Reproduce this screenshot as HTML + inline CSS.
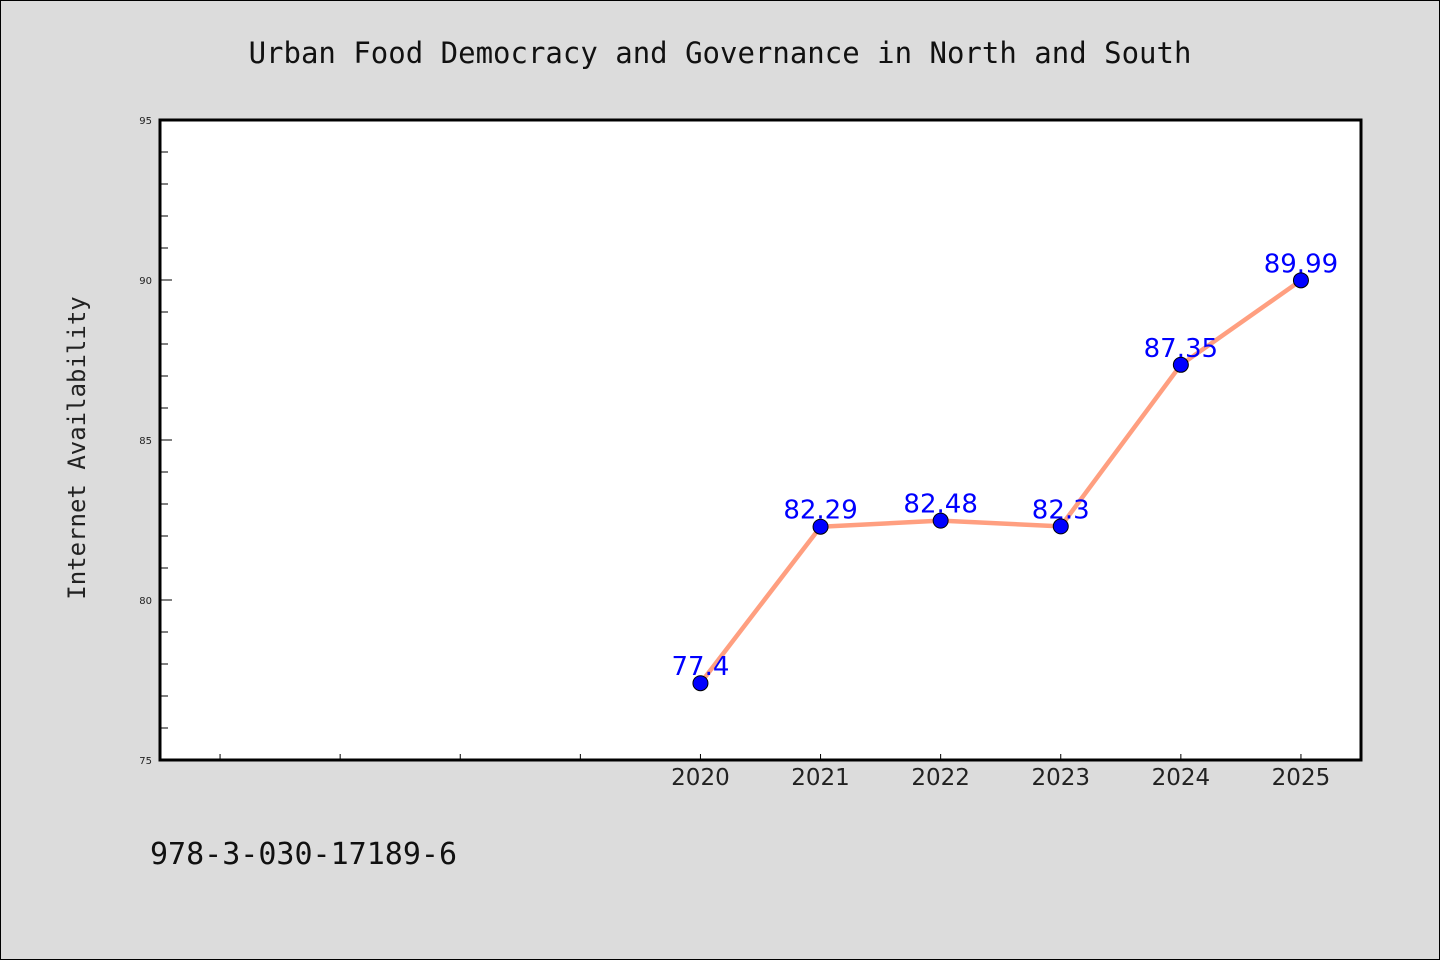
<!DOCTYPE html>
<html><head><meta charset="utf-8"><style>
html,body{margin:0;padding:0;background:#dcdcdc;}
svg{display:block;}
</style></head><body>
<svg width="1440" height="960" xmlns="http://www.w3.org/2000/svg">
<rect x="0.5" y="0.5" width="1439" height="959" fill="#dcdcdc" stroke="#000"/>
<text x="720" y="63" text-anchor="middle" font-family="'DejaVu Sans Mono','Liberation Mono',monospace" font-size="29" fill="#111">Urban Food Democracy and Governance in North and South</text>
<rect x="160" y="120" width="1201" height="641" fill="#fff"/>
<g id="axes"></g>
<text transform="translate(85,448) rotate(-90)" text-anchor="middle" font-family="'DejaVu Sans Mono','Liberation Mono',monospace" font-size="24" fill="#222">Internet Availability</text>
<text x="150" y="864" font-family="'DejaVu Sans Mono','Liberation Mono',monospace" font-size="30" fill="#111">978-3-030-17189-6</text>
</svg>
<script>
const years = [2020, 2021, 2022, 2023, 2024, 2025];
const values = [77.4, 82.29, 82.48, 82.3, 87.35, 89.99];
const labels = ["77.4", "82.29", "82.48", "82.3", "87.35", "89.99"];
const yTicks = [75, 80, 85, 90, 95];
const ns = "http://www.w3.org/2000/svg";
const g = document.getElementById('axes');
const X0 = 160, X1 = 1361, Y0 = 760, Y1 = 120;
const xMin = 2015.5, xMax = 2025.5, yMin = 75, yMax = 95;
const xs = v => X0 + (v - xMin) / (xMax - xMin) * (X1 - X0);
const ys = v => Y0 - (v - yMin) / (yMax - yMin) * (Y0 - Y1);
function mk(tag, attrs) { const e = document.createElementNS(ns, tag); for (const k in attrs) e.setAttribute(k, attrs[k]); g.appendChild(e); return e; }
// y ticks
for (let v = yMin; v <= yMax; v++) {
  const major = v % 5 === 0;
  const t = mk('line', {x1: X0, x2: X0 + (major ? 12 : 8), y1: ys(v), y2: ys(v), stroke: '#000', 'stroke-width': 1});
  
  
}
yTicks.forEach(v => {
  const t = mk('text', {x: 152, y: ys(v) + 4, 'text-anchor': 'end', 'font-family': "'DejaVu Sans',sans-serif", 'font-size': 10, fill: '#222'});
  t.textContent = v;
  
  
});
// x ticks
for (let v = 2016; v <= 2025; v++) {
  const t = mk('line', {x1: xs(v), x2: xs(v), y1: Y0, y2: Y0 - 6, stroke: '#000', 'stroke-width': 1});
  
  
}
years.forEach(v => {
  const t = mk('text', {x: xs(v), y: 785, 'text-anchor': 'middle', 'font-family': "'DejaVu Sans','Liberation Sans',sans-serif", 'font-size': 23, fill: '#222'});
  t.textContent = v;
  
  
});
// frame
const fr = mk('rect', {x: X0, y: Y1, width: X1 - X0, height: Y0 - Y1, fill: 'none', stroke: '#000', 'stroke-width': 3});


// line
const pts = years.map((y, i) => xs(y) + ',' + ys(values[i])).join(' ');
const pl = mk('polyline', {points: pts, fill: 'none', stroke: '#ff9f80', 'stroke-width': 4.5, 'stroke-linejoin': 'round'});


years.forEach((y, i) => {
  const c = mk('circle', {cx: xs(y), cy: ys(values[i]), r: 7.5, fill: '#0000ff', stroke: '#000', 'stroke-width': 1});
  
  
});
years.forEach((y, i) => {
  const t = mk('text', {x: xs(y), y: ys(values[i]) - 8, 'text-anchor': 'middle', 'font-family': "'DejaVu Sans','Liberation Sans',sans-serif", 'font-size': 26, fill: '#0000ff'});
  t.textContent = labels[i];
  
  
});
</script>
</body></html>
